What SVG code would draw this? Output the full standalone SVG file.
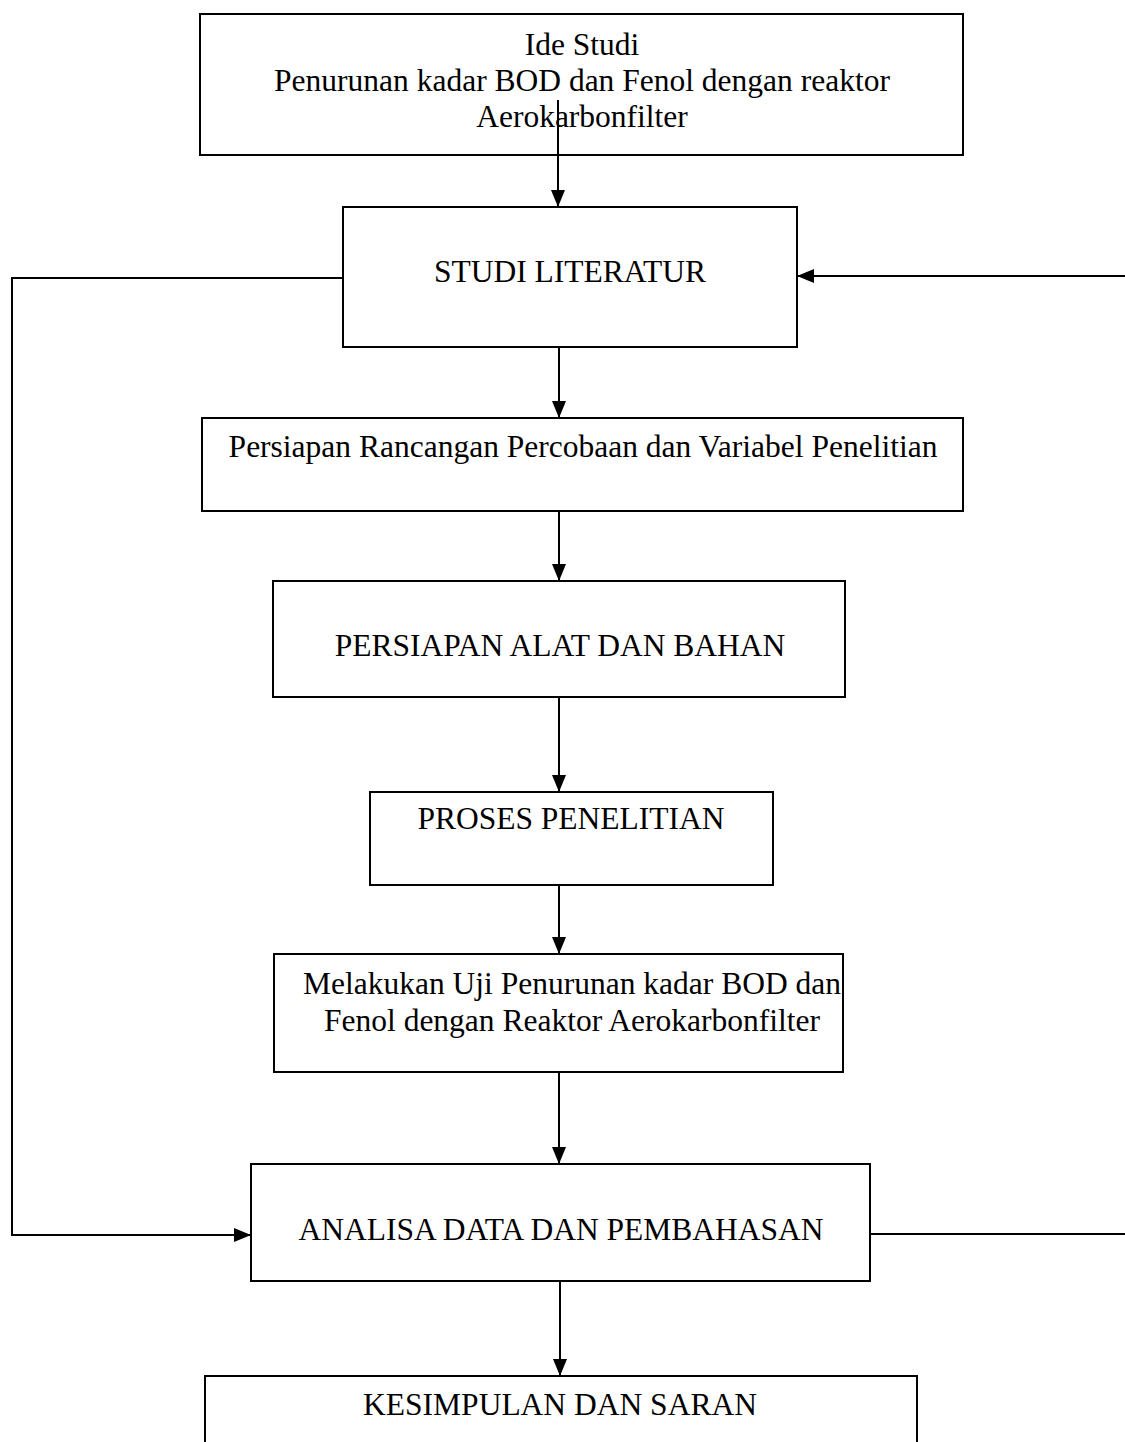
<svg xmlns="http://www.w3.org/2000/svg" width="1125" height="1442" viewBox="0 0 1125 1442">
<defs>
<marker id="ah" markerWidth="17" markerHeight="14" refX="17" refY="7" orient="auto" markerUnits="userSpaceOnUse">
<path d="M0,0 L17,7 L0,14 Z" fill="#000"/>
</marker>
<style>
.box{fill:#fff;stroke:#000;stroke-width:2}
.t{font-family:"Liberation Serif","Times New Roman",serif;font-size:31.5px;fill:#000;text-anchor:middle}
.c{fill:none;stroke:#000;stroke-width:2}
</style>
</defs>
<rect width="1125" height="1442" fill="#fff"/>
<g id="n1"><rect class="box" x="200" y="14" width="763" height="141"/>
<text class="t" x="582" y="55">Ide Studi</text>
<text class="t" x="582" y="91">Penurunan kadar BOD dan Fenol dengan reaktor</text>
<text class="t" x="582" y="127">Aerokarbonfilter</text></g>
<g id="n2"><rect class="box" x="343" y="207" width="454" height="140"/>
<text class="t" x="570" y="282">STUDI LITERATUR</text></g>
<g id="n3"><rect class="box" x="202" y="418" width="761" height="93"/>
<text class="t" x="583" y="457">Persiapan Rancangan Percobaan dan Variabel Penelitian</text></g>
<g id="n4"><rect class="box" x="273" y="581" width="572" height="116"/>
<text class="t" x="560" y="656">PERSIAPAN ALAT DAN BAHAN</text></g>
<g id="n5"><rect class="box" x="370" y="792" width="403" height="93"/>
<text class="t" x="571" y="829">PROSES PENELITIAN</text></g>
<g id="n6"><rect class="box" x="274" y="954" width="569" height="118"/>
<text class="t" x="572" y="994">Melakukan Uji Penurunan kadar BOD dan</text>
<text class="t" x="572" y="1031">Fenol dengan Reaktor Aerokarbonfilter</text></g>
<g id="n7"><rect class="box" x="251" y="1164" width="619" height="117"/>
<text class="t" x="561" y="1240">ANALISA DATA DAN PEMBAHASAN</text></g>
<g id="n8"><rect class="box" x="205" y="1376" width="712" height="90"/>
<text class="t" x="560" y="1415">KESIMPULAN DAN SARAN</text></g>
<g id="connectors">
<line class="c" x1="558" y1="100" x2="558" y2="207" marker-end="url(#ah)"/>
<line class="c" x1="559" y1="347" x2="559" y2="418" marker-end="url(#ah)"/>
<line class="c" x1="559" y1="511" x2="559" y2="581" marker-end="url(#ah)"/>
<line class="c" x1="559" y1="697" x2="559" y2="792" marker-end="url(#ah)"/>
<line class="c" x1="559" y1="885" x2="559" y2="954" marker-end="url(#ah)"/>
<line class="c" x1="559" y1="1072" x2="559" y2="1164" marker-end="url(#ah)"/>
<line class="c" x1="560" y1="1281" x2="560" y2="1376" marker-end="url(#ah)"/>
<polyline class="c" points="343,278 12,278 12,1235 251,1235" marker-end="url(#ah)"/>
<polyline class="c" points="870,1234 1130,1234 1130,276 797,276" marker-end="url(#ah)"/>
</g>
</svg>
